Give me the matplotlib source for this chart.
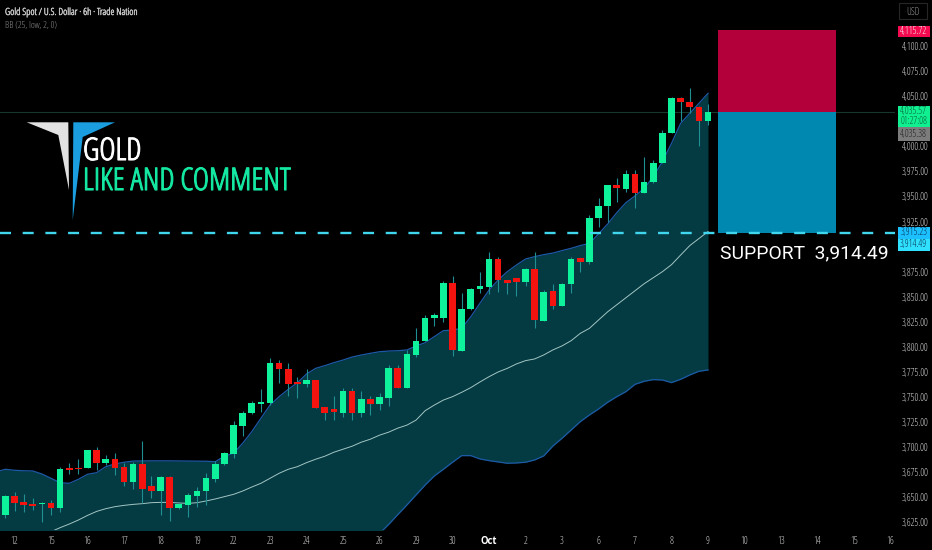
import numpy as np
import matplotlib
matplotlib.use("Agg")
import matplotlib.pyplot as plt
import matplotlib.patheffects as pe
from matplotlib.patches import Rectangle, Polygon

plt.rcParams['font.family'] = ['Open Sans', 'DejaVu Sans']
plt.rcParams['font.stretch'] = 'condensed'

opens = [3632.4,3651.4,3645.4,3643.4,3643.4,3644.7,3639.4,3678.9,3679.6,3678.9,3696.9,3683.9,3688.6,3680.2,3665.3,3682.9,3661.0,3656.3,3670.0,3639.4,
         3642.1,3651.4,3656.0,3668.6,3683.2,3693.2,3720.8,3733.8,3743.4,3744.4,3783.6,3778.0,3765.0,3763.0,3767.0,3739.7,3737.8,3734.4,3756.0,3733.8,
         3747.7,3743.0,3749.4,3779.0,3759.4,3792.0,3805.9,3828.8,3829.0,3863.4,3796.2,3837.5,3857.4,3860.0,3887.3,3866.7,3868.3,3864.7,3878.0,3825.8,
         3856.0,3840.8,3862.4,3888.3,3885.0,3928.2,3940.5,3961.1,3957.4,3972.1,3953.1,3964.7,3983.4,4012.9,4047.8,4044.2,4039.5,4025.2]
closes = [3651.4,3644.7,3642.4,3641.4,3644.7,3639.4,3678.6,3676.9,3678.3,3696.9,3683.9,3688.2,3679.6,3665.3,3682.9,3658.0,3656.7,3670.3,3639.4,3643.4,
          3652.0,3656.7,3669.3,3683.2,3694.2,3721.8,3734.4,3744.4,3745.4,3783.6,3777.6,3763.0,3763.0,3767.3,3739.4,3733.8,3734.8,3756.0,3733.8,3747.7,
          3743.0,3749.7,3778.6,3759.4,3792.9,3806.2,3828.8,3831.8,3863.4,3796.9,3837.8,3857.4,3860.7,3887.3,3866.7,3864.0,3864.7,3878.0,3826.8,3854.4,
          3840.8,3862.7,3888.0,3885.0,3928.2,3940.8,3961.1,3958.1,3972.1,3953.1,3964.4,3983.4,4013.6,4047.8,4044.2,4039.5,4025.2,4033.9]
highs = [3652.0,3655.7,3653.0,3649.0,3645.0,3647.4,3680.6,3683.9,3687.9,3697.0,3700.5,3691.9,3693.9,3684.6,3685.6,3706.5,3671.3,3671.0,3671.3,3644.7,
         3654.0,3660.0,3674.0,3686.6,3695.5,3725.8,3735.8,3746.0,3758.0,3789.3,3787.0,3783.6,3769.6,3778.0,3767.5,3740.0,3751.0,3759.4,3759.4,3756.4,
         3751.0,3753.7,3782.0,3782.0,3796.9,3818.5,3831.8,3833.5,3866.0,3870.7,3853.4,3858.4,3874.3,3894.3,3890.0,3867.0,3868.5,3878.5,3895.0,3856.7,
         3862.7,3864.0,3890.0,3889.0,3931.5,3948.1,3961.5,3968.0,3976.4,3976.4,3989.0,3986.4,4016.3,4048.8,4048.8,4057.8,4040.2,4042.2]
lows = [3629.0,3636.4,3635.0,3637.4,3625.1,3632.4,3635.7,3673.3,3673.0,3678.9,3677.3,3682.2,3672.3,3661.3,3658.3,3644.0,3649.7,3632.4,3626.4,3638.7,
        3630.7,3640.7,3642.4,3665.6,3682.2,3688.9,3711.2,3733.0,3734.8,3742.0,3764.3,3751.0,3749.4,3760.3,3738.7,3727.0,3727.0,3730.4,3727.0,3730.4,
        3732.0,3737.0,3741.0,3759.0,3759.0,3790.3,3805.6,3820.8,3824.5,3791.3,3796.0,3837.0,3853.4,3852.7,3855.0,3852.7,3851.0,3861.0,3818.5,3825.6,
        3837.4,3840.5,3853.4,3875.0,3883.0,3919.9,3924.9,3944.8,3954.8,3938.8,3953.0,3963.0,3983.0,4012.8,4025.2,4033.5,4000.6,4021.2]
# bands start one bar before the first visible candle
bb_upper = [3675.5,3678,3677,3676.5,3676.3,3673.3,3669,3664.6,3664,3668,3673,3674.6,3680.6,3683.3,3685,3686.2,3686.3,3686.4,3686.4,3686.4,3686.3,
            3686.2,3686.1,3686,3685.6,3691,3693.9,3703.9,3715.5,3728.8,3742,3750.4,3757.7,3764.3,3773,3778.6,3781.3,3784.3,3786.9,3789.9,3791.9,
            3793.6,3795.2,3795.9,3796.2,3796.9,3800.9,3804.2,3810.2,3816.2,3816.8,3818.5,3830,3843.4,3856.7,3866.7,3875,3881.6,3887.6,3890,3892,
            3893.6,3896,3898.3,3901,3903.2,3912.6,3922.5,3933.8,3943.8,3950.5,3958,3969.7,3984.7,4003,4022.9,4032.9,4042.8,4052.8]
bb_middle = [np.nan]*6 + [3615.8,3619.8,3623.4,3627.4,3632,3636,3638.7,3640.7,3642,3643,3643.7,3644.7,3645,3645,3644.4,
             3644,3644.7,3646.4,3648.4,3650.7,3653,3656.3,3660.3,3664,3669,3674,3678,3680.6,3684.6,3688,3691,3695,3698,3701,3705,
             3708,3712,3715,3719,3722,3727,3736.4,3742,3747,3750.4,3754.7,3759.4,3765,3770.3,3775,3778.6,3783,3786.3,3788,3792,
             3797,3801,3806.2,3813.5,3818.5,3826.8,3835,3842,3849,3856,3863,3869,3875,3882,3891.6,3901,3908,3915]
bb_lower = [np.nan]*42 + [3614,3623,3632.8,3642.4,3652.4,3662.3,3671.3,3678,3685,3691.6,3691.6,3688.3,3686.6,3685.3,3684,3684.3,3685,3687.3,3691.3,
            3701.2,3708.9,3717.2,3725.5,3732.1,3738.1,3744.8,3750.4,3755.4,3762.7,3765.7,3767.4,3767,3764.4,3767.7,3772,3775.7,3777]

date_positions = [1 + 4*k for k in range(25)]
date_labels = ['12','15','16','17','18','19','22','23','24','25','26','29','30','Oct','2','3','6','7','8','9','10','13','14','15','16']
price_ticks = [4100,4075,4050,4000,3975,3950,3925,3875,3850,3825,3800,3775,3750,3725,3700,3675,3650,3625]

last_line = 4034.0
support_line = 3913.3
risk_top = 4115.72
pos_start, pos_end = 78.1, 91.0

UP, DOWN = '#0ff29c', '#f5130f'
WICK = '#1f8f92'

fig = plt.figure(figsize=(9.32, 5.5), dpi=100, facecolor='black')
ax = fig.add_axes([0, 20/550, 895/932, 530/550], facecolor='black')
ax.set_xlim((0-5.4)/9.125, (895-5.4)/9.125)
ax.set_ylim(4100-(530-46)*0.997, 4100+46*0.997)
ybot = ax.get_ylim()[0]

idx = np.arange(len(opens))
band_idx = np.arange(-1, len(opens))
o, c, h, l = map(np.array, (opens, closes, highs, lows))
up, mid, lo = np.array(bb_upper), np.array(bb_middle), np.array(bb_lower)

ax.fill_between(band_idx, up, np.where(np.isnan(lo), ybot-5, lo), color='#043a42', lw=0, zorder=1)
ax.plot(band_idx, up, color='#1c5aa6', lw=0.9, zorder=2)
ax.plot(band_idx, lo, color='#1c5aa6', lw=0.9, zorder=2)
ax.plot(band_idx, mid, color='#a2c6c4', lw=0.7, zorder=2)
ax.axhline(last_line, color='#17382e', lw=0.8, zorder=1.5)

ax.vlines(idx, l, h, color=WICK, lw=0.8, zorder=3)
colors = [UP if cc >= oo else DOWN for oo, cc in zip(o, c)]
bot = np.minimum(o, c)
ht = np.maximum(np.abs(c-o), 1.0)
ax.bar(idx, ht, bottom=bot, width=0.72, color=colors, lw=0, zorder=4)

ax.add_patch(Rectangle((pos_start, last_line), pos_end-pos_start, risk_top-last_line, color='#b4003a', lw=0, zorder=5))
ax.add_patch(Rectangle((pos_start, support_line), pos_end-pos_start, last_line-support_line, color='#0088b0', lw=0, zorder=5))
ax.axhline(support_line, color='#3fd6ee', lw=1.7, linestyle=(0, (4.66, 4.95)), dash_capstyle='butt', zorder=6)

for s in ax.spines.values():
    s.set_visible(False)
ax.set_xticks(date_positions)
ax.set_xticklabels(date_labels, fontsize=6.9, color='#d4d4d4')
ax.get_xticklabels()[13].set_color('white')
ax.get_xticklabels()[13].set_fontweight('bold')
ax.yaxis.tick_right()
ax.set_yticks(price_ticks)
ax.set_yticklabels([f"{p:,.2f}" for p in price_ticks], fontsize=6.9, color='#d4d4d4')
ax.tick_params(axis='both', length=0)
ax.tick_params(axis='x', pad=4.5)
ax.tick_params(axis='y', pad=5)

ov = fig.add_axes([0, 0, 1, 1], facecolor='none')
ov.set_xlim(0, 932); ov.set_ylim(550, 0); ov.axis('off')

def thick(color, w):
    return [pe.withStroke(linewidth=w, foreground=color)]

ov.text(5, 12.5, 'Gold Spot / U.S. Dollar · 6h · Trade Nation', color='#c8c8c8', fontsize=7.1, va='center',
        path_effects=thick('#c8c8c8', 0.3))
ov.text(5, 25.5, 'BB (25, low, 2, 0)', color='#8f8f8f', fontsize=6.8, va='center')

ov.add_patch(Polygon([(26.7,122.3),(68.3,122.3),(69,190),(58.3,135)], color='#e2e2e2', lw=0))
ov.add_patch(Polygon([(73.3,122.3),(115,122.3),(82.7,137),(72.7,220)], color='#1a9ee0', lw=0))
ov.text(83, 152, 'GOLD', color='white', fontsize=22.4, va='center', ha='left', path_effects=thick('white', 0.8))
ov.text(83, 182, 'LIKE AND COMMENT', color='#14e8a2', fontsize=22.4, va='center', ha='left', path_effects=thick('#14e8a2', 0.8))
ov.text(720, 253.5, 'SUPPORT  3,914.49', color='white', fontsize=13.9, family='Roboto', stretch='normal', va='center', ha='left')

tags = [(26, 37, '#f50a50', '#f4f4f4', '4,115.72'),
        (106, 116.5, '#10f090', '#06603c', '4,035.57'),
        (116.5, 127, '#10f090', '#06603c', '01:27:08'),
        (127, 141, '#7c7c7c', '#222222', '4,035.38'),
        (227.3, 238.7, '#1cc0ff', '#063050', '3,915.23'),
        (238.7, 251, '#30e0ff', '#063050', '3,914.49')]
for y0, y1, fc, tc, txt in tags:
    ov.add_patch(Rectangle((897.5, y0), 32.5, y1-y0, color=fc, lw=0))
    ov.text(913.7, (y0+y1)/2, txt, color=tc, fontsize=6.9, ha='center', va='center')

ov.add_patch(Rectangle((898.5, 2.5), 28, 16, fc='black', ec='#262626', lw=0.8))
ov.text(912.5, 12.5, 'USD', color='#9a9a9a', fontsize=6.9, ha='center', va='center')

fig.savefig('out.png', dpi=100, facecolor='black')
